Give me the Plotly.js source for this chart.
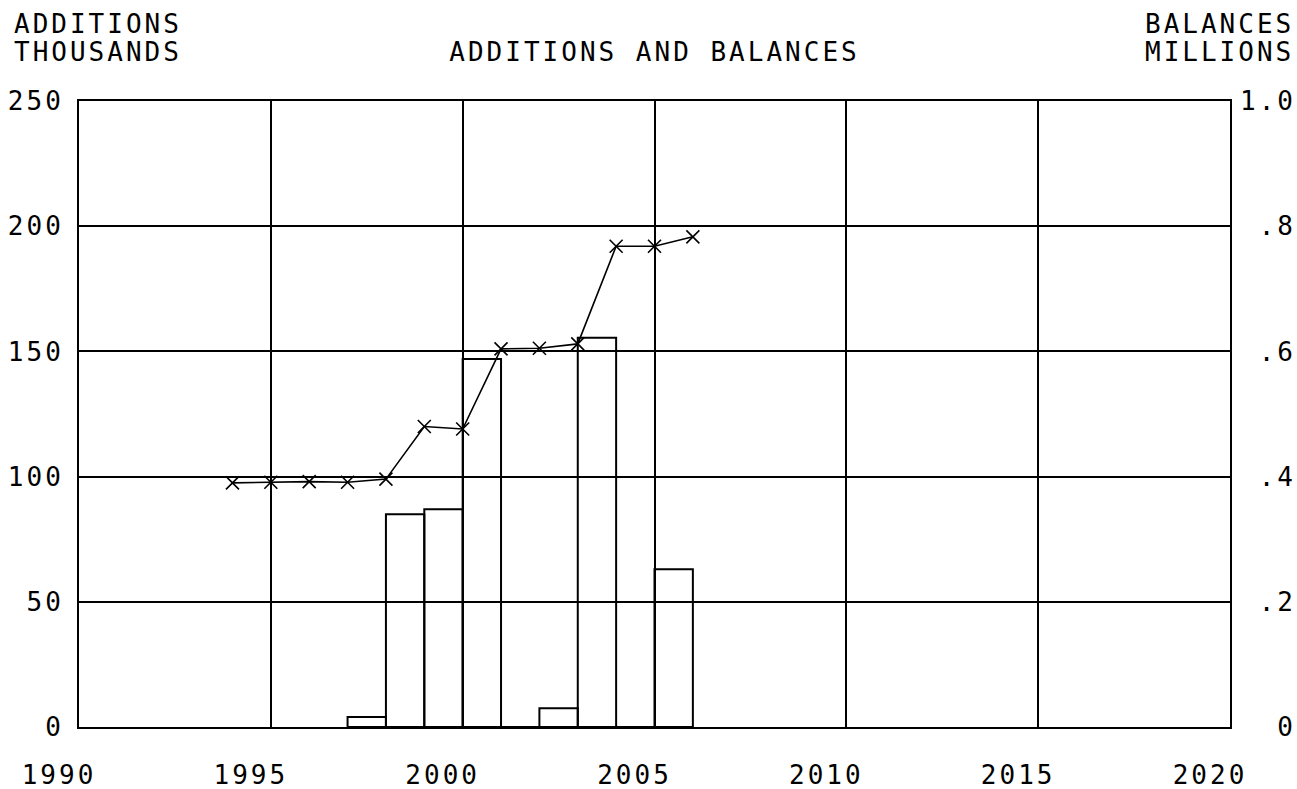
<!DOCTYPE html>
<html><head><meta charset="utf-8">
<script src="https://cdn.plot.ly/plotly-3.0.1.min.js"></script>
<style>
html,body{margin:0;padding:0;background:#fff;}
#chart{width:1297px;height:789px;}
svg text{letter-spacing:3px;}
</style></head><body><div id="chart"></div>
<script>
// ---- data ----
const additionYears = [1997, 1998, 1999, 2000, 2001, 2002, 2003, 2004, 2005];
const additionsThousands = [4, 85, 87, 147, 0, 7.5, 155.5, 0, 63];
const balanceYears = [1994, 1995, 1996, 1997, 1998, 1999, 2000, 2001, 2002, 2003, 2004, 2005, 2006];
const balancesMillions = [0.39, 0.391, 0.392, 0.391, 0.396, 0.48, 0.476, 0.604, 0.605, 0.612, 0.768, 0.768, 0.783];
const xTickVals = [1990, 1995, 2000, 2005, 2010, 2015, 2020];
const xTickText = ['1990', '1995', '2000', '2005', '2010', '2015', '2020'];
const leftTickVals = [0, 50, 100, 150, 200, 250];
const leftTickText = ['0', '50', '100', '150', '200', '250'];
const rightTickVals = [0, 0.2, 0.4, 0.6, 0.8, 1.0];
const rightTickText = ['0', '.2', '.4', '.6', '.8', '1.0'];
const chartTitle = 'ADDITIONS AND BALANCES';
const leftTitle = ['ADDITIONS', 'THOUSANDS'];
const rightTitle = ['BALANCES', 'MILLIONS'];

// ---- layout geometry ----
const W = 1297, H = 789;
const M = {l: 79, r: 67, t: 101, b: 62};
const PW = W - M.l - M.r, PH = H - M.t - M.b;
const px2x = p => (p - M.l) / PW;
const py2y = p => (H - M.b - p) / PH;

const FONT = 'DejaVu Sans Mono';
const FS = 26;
const font = {family: FONT, size: FS, color: '#000'};
const pad3 = t => '\u00a0'.repeat(Math.max(0, 3 - t.length)) + t;

const traces = [
  {
    type: 'bar', x: additionYears, y: additionsThousands, yaxis: 'y',
    width: 1, offset: 0,
    marker: {color: 'rgba(0,0,0,0)', line: {color: '#000', width: 2}},
    hoverinfo: 'skip', showlegend: false
  },
  {
    type: 'scatter', mode: 'lines+markers', x: balanceYears, y: balancesMillions, yaxis: 'y2',
    line: {color: '#000', width: 1.6},
    marker: {symbol: 'x-thin', size: 13, color: '#000', line: {color: '#000', width: 1.6}},
    showlegend: false
  }
];

const ann = (text, xpx, ypx, xanchor) => ({
  text: text, xref: 'paper', yref: 'paper', x: px2x(xpx), y: py2y(ypx),
  xanchor: xanchor, yanchor: 'middle', showarrow: false, font: font, borderpad: 0
});

const layout = {
  width: W, height: H,
  margin: M,
  paper_bgcolor: '#fff', plot_bgcolor: '#fff',
  font: font,
  showlegend: false,
  title: {text: chartTitle, font: font, x: 0.5, xref: 'paper', xanchor: 'center',
          y: 1 - 52 / H, yref: 'container', yanchor: 'middle'},
  xaxis: {
    range: [1990, 2020], tickmode: 'array', tickvals: xTickVals, ticktext: xTickText,
    showgrid: true, gridcolor: '#000', gridwidth: 2,
    showline: true, mirror: true, linecolor: '#000', linewidth: 2,
    zeroline: false, ticks: '', tickfont: font,
    ticklabelshift: -20, ticklabelstandoff: 24
  },
  yaxis: {
    range: [0, 250], tickmode: 'array', tickvals: leftTickVals, ticktext: leftTickText,
    showgrid: true, gridcolor: '#000', gridwidth: 2,
    showline: true, mirror: true, linecolor: '#000', linewidth: 2,
    zeroline: false, ticks: '', tickfont: font, ticklabelstandoff: 8
  },
  yaxis2: {
    overlaying: 'y', side: 'right', range: [0, 1],
    tickmode: 'array', tickvals: rightTickVals, ticktext: rightTickText.map(pad3),
    showgrid: false, zeroline: false, showline: false, ticks: '',
    tickfont: font, ticklabelstandoff: 9
  },
  annotations: [
    ann(leftTitle[0], 13, 24, 'left'),
    ann(leftTitle[1], 13, 52, 'left'),
    ann(rightTitle[0], 1295, 24, 'right'),
    ann(rightTitle[1], 1295, 52, 'right')
  ]
};

Plotly.newPlot('chart', traces, layout, {displayModeBar: false, staticPlot: true});
</script></body></html>
